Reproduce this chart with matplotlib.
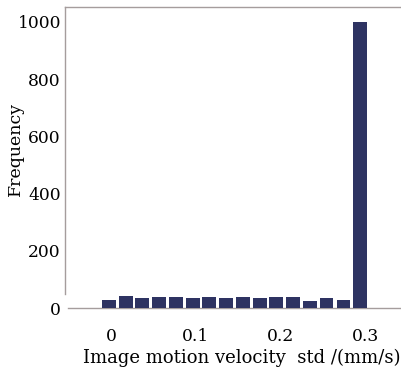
import matplotlib
matplotlib.use("Agg")
import matplotlib.pyplot as plt

# histogram bin centres (mm/s) and counts
bin_centers = [-0.002, 0.018, 0.037, 0.057, 0.077, 0.097, 0.116, 0.136,
               0.156, 0.176, 0.195, 0.215, 0.235, 0.254, 0.274, 0.294]
counts = [29, 42, 36, 40, 40, 36, 40, 34, 40, 35, 40, 40, 24, 35, 27, 1000]

x_ticks = [0, 0.1, 0.2, 0.3]
x_tick_labels = ["0", "0.1", "0.2", "0.3"]
y_ticks = [0, 200, 400, 600, 800, 1000]

bar_color = "#2e3362"
spine_color = "#a59d9d"

plt.rcParams["font.family"] = ["DejaVu Serif"]
plt.rcParams["font.size"] = 12

fig = plt.figure(figsize=(4.02, 3.69), dpi=100)
# the original is cropped on the right, so the axes run past the figure edge
ax = fig.add_axes([0.162, 0.165, 0.88, 0.816])

ax.bar(bin_centers, counts, width=0.0162, color=bar_color, zorder=3)

ax.set_xlim(-0.054, 0.363)
ax.set_ylim(0, 1052)
ax.set_xticks(x_ticks)
ax.set_xticklabels(x_tick_labels)
ax.set_yticks(y_ticks)
ax.tick_params(length=0, labelsize=12.3)
ax.tick_params(axis="y", pad=3)
ax.tick_params(axis="x", pad=14)

for s in ["top", "left", "bottom"]:
    ax.spines[s].set_color(spine_color)
    ax.spines[s].set_linewidth(1.0)
ax.spines["right"].set_visible(False)
ax.spines["left"].set_bounds(50, 1052)
ax.spines["bottom"].set_bounds(-0.0505, 0.363)

ax.set_xlabel("Image motion velocity  std /(mm/s)", fontsize=13, labelpad=3)
fig.text(15 / 402, 1 - 149 / 369, "Frequency", rotation=90,
         ha="center", va="center", fontsize=12.5)

fig.savefig("out.png", dpi=100)
